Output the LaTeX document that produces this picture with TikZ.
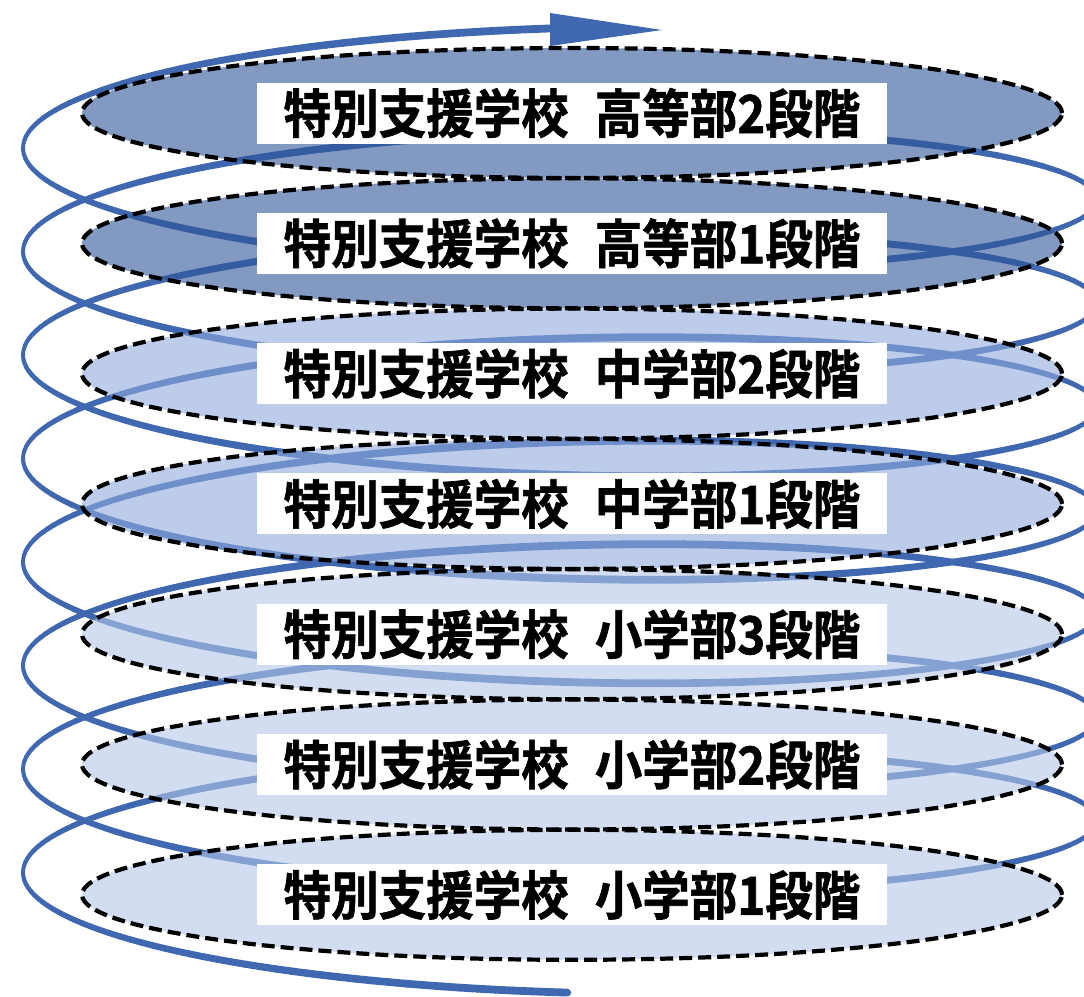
\documentclass[tikz,border=0pt]{standalone}
\usepackage{fontspec}
\newfontfamily\jp{Noto Sans CJK JP}[BoldFont=* Bold, BoldFeatures={FakeBold=1.3}]
\usetikzlibrary{shapes.geometric}
\definecolor{helixblue}{RGB}{64,104,176}
\definecolor{ellDark}{RGB}{47,85,151}
\definecolor{ellMid}{RGB}{143,170,220}
\definecolor{ellLight}{RGB}{180,199,231}
\tikzset{
  helixseg/.style={draw=helixblue, line width=#1, line cap=round},
  stagefill/.style={ellipse, minimum width=980pt, minimum height=130pt, inner sep=0pt,
    fill=#1, fill opacity=0.6},
  stageline/.style={draw=black, line width=4.2pt, dash pattern=on 13pt off 6pt},
  lbl/.style={fill=white, minimum width=630pt, minimum height=61pt, inner sep=0pt,
    font=\jp\bfseries\fontsize{50}{50}\selectfont, text=black}
}
\newcommand{\lbltext}[1]{\scalebox{0.95}[1.05]{特別支援学校\hspace{0.55em}#1}}
\begin{document}
\begin{tikzpicture}[x=1pt,y=-1pt]
\useasboundingbox (0,0) rectangle (1084,996);
\clip (0,0) rectangle (1084,996);
% spiral, drawn in short pieces so that its width can vary
\foreach \i in {0,...,1399}{
  \pgfmathsetmacro\ta{-42.425 + \i*0.033656}
  \pgfmathsetmacro\tb{\ta + 0.033656}
  \pgfmathsetmacro\w{3.8 + 4*abs(sin(\ta r))}
  \draw[helixseg=\w pt]
    ({560+537*cos(\ta r)}, {199.75 - 16.472*\ta + 94*sin(\ta r)}) --
    ({560+537*cos(\tb r)}, {199.75 - 16.472*\tb + 94*sin(\tb r)});
}
\coordinate (ab1) at (550,13);
\coordinate (ab2) at (550,46);
\coordinate (atip) at (662,30);
\fill[helixblue] (ab1) -- (atip) -- (ab2) -- cycle;
% stages: translucent fills
\node[stagefill=ellDark]  (e1) at (572,113.0) {};
\node[stagefill=ellDark]  (e2) at (572,243.3) {};
\node[stagefill=ellMid]   (e3) at (572,373.6) {};
\node[stagefill=ellMid]   (e4) at (572,503.9) {};
\node[stagefill=ellLight] (e5) at (572,634.2) {};
\node[stagefill=ellLight] (e6) at (572,764.5) {};
\node[stagefill=ellLight] (e7) at (572,894.8) {};
% dashed outlines
\foreach \e in {e1,e2,e3,e4,e5,e6,e7}{
  \draw[stageline] (\e.center) ellipse [x radius=490pt, y radius=65pt];
}
\node[lbl] (l1) at (e1) {\lbltext{高等部2段階}};
\node[lbl] (l2) at (e2) {\lbltext{高等部1段階}};
\node[lbl] (l3) at (e3) {\lbltext{中学部2段階}};
\node[lbl] (l4) at (e4) {\lbltext{中学部1段階}};
\node[lbl] (l5) at (e5) {\lbltext{小学部3段階}};
\node[lbl] (l6) at (e6) {\lbltext{小学部2段階}};
\node[lbl] (l7) at (e7) {\lbltext{小学部1段階}};
\end{tikzpicture}
\end{document}
